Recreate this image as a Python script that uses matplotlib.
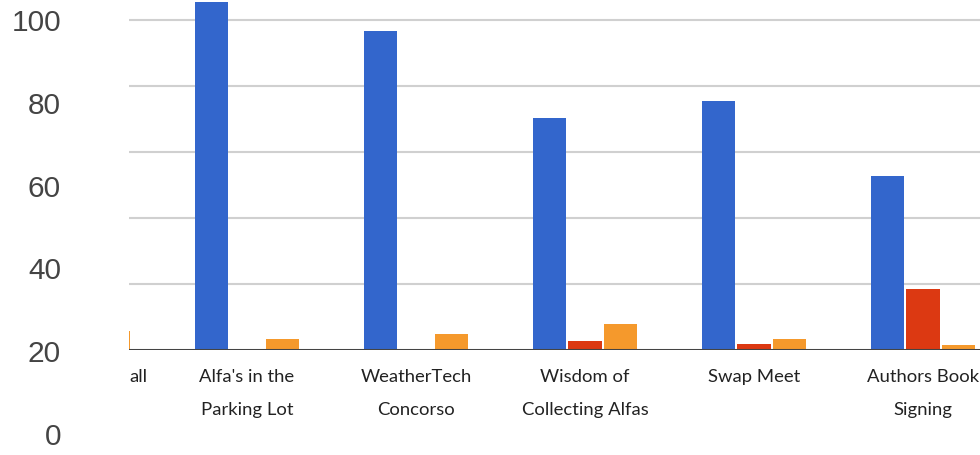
import numpy as np
import matplotlib.pyplot as plt

# data
categories = ["all", "Alfa's in the\nParking Lot", "WeatherTech\nConcorso",
              "Wisdom of\nCollecting Alfas", "Swap Meet", "Authors Book\nSigning"]
blue = [np.nan, 105.4, 96.7, 70.4, 75.5, 52.8]
red = [np.nan, 0, 0, 2.8, 1.7, 18.4]
orange = [5.8, 3.4, 4.8, 7.9, 3.4, 1.6]
y_labels = ["100", "80", "60", "40", "20", "0"]

colors = ['#3366cc', '#dc3912', '#f5992c']
xfont = dict(family='Lato', fontsize=13.3, color='#222222')

fig = plt.figure(figsize=(9.8, 4.55), dpi=100)
ax = fig.add_axes([129 / 980, 105 / 455, 1 - 129 / 980, 350 / 455])

x = np.arange(len(categories))
w = 0.2
off = 0.21
ax.bar(x - off, blue, w, color=colors[0], zorder=3)
ax.bar(x, red, w, color=colors[1], zorder=3)
ax.bar(x + off, orange, w, color=colors[2], zorder=3)

ax.set_xlim(0.302, 5.337)
ax.set_ylim(0, 106.06)

# grid lines
for v in [20, 40, 60, 80, 100]:
	ax.axhline(v, color='#d0d0d0', lw=1.5, zorder=1)
ax.axhline(0, color='#444444', lw=2.2, zorder=4)

for s in ax.spines.values():
	s.set_visible(False)
ax.set_yticks([])
ax.set_xticks(x[1:])
ax.set_xticklabels(categories[1:], linespacing=2.3, **xfont)
ax.tick_params(axis='x', length=0, pad=14)

# first category is cut off by the left edge
ax.annotate(categories[0], xy=(0, 0), xycoords='axes fraction', xytext=(0, -14),
            textcoords='offset points', ha='left', va='top', **xfont)

# y labels (spaced differently from the grid in the picture)
for i, t in enumerate(y_labels):
	fig.text(61 / 980, 1 - (23 + i * 82.8) / 455, t, ha='right', va='center',
	         family='Liberation Sans', fontsize=21.5, color='#444444')

fig.savefig('out.png', dpi=100)
